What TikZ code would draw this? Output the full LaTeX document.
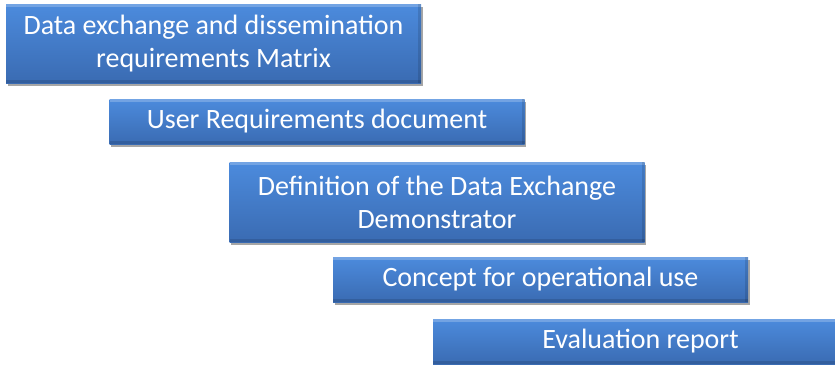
\documentclass[tikz,border=0pt]{standalone}
\usepackage{fontspec}
\setmainfont{Carlito}
\usetikzlibrary{shadows}
\definecolor{boxtop}{HTML}{4C8BDD}
\definecolor{boxbot}{HTML}{3A6BB2}
\begin{document}
\begin{tikzpicture}[x=1pt,y=-1pt,
  stagebox/.style={draw=none, top color=boxtop, bottom color=boxbot,
    text=white, align=center, inner sep=0pt,
    font=\fontsize{28}{33}\selectfont,
    minimum width=415pt,
    drop shadow={shadow xshift=1.5pt, shadow yshift=-3pt, opacity=0.35, fill=black},
    path picture={
      \fill[white,opacity=0.22] (path picture bounding box.north west) rectangle ([yshift=-3pt]path picture bounding box.north east);
      \fill[black,opacity=0.12] ([xshift=-3pt]path picture bounding box.north east) rectangle (path picture bounding box.south east);
      \fill[black,opacity=0.12] (path picture bounding box.south west) rectangle ([yshift=3pt]path picture bounding box.south east);
    }}]
\useasboundingbox (0,0) rectangle (835,364);
\clip (0,0) rectangle (835,364);
\node[stagebox, minimum height=79pt] (m) at (213.5,43.5) {Data exchange and dissemination\\requirements Matrix};
\node[stagebox, minimum height=45pt] (u) at (317,121.5) {User Requirements document};
\node[stagebox, minimum height=80pt] (d) at (437,202) {Definition of the Data Exchange\\Demonstrator};
\node[stagebox, minimum height=45pt] (c) at (540.5,279.5) {Concept for operational use};
\node[stagebox, minimum height=45pt] (e) at (640.5,341.5) {Evaluation report};
\end{tikzpicture}
\end{document}
